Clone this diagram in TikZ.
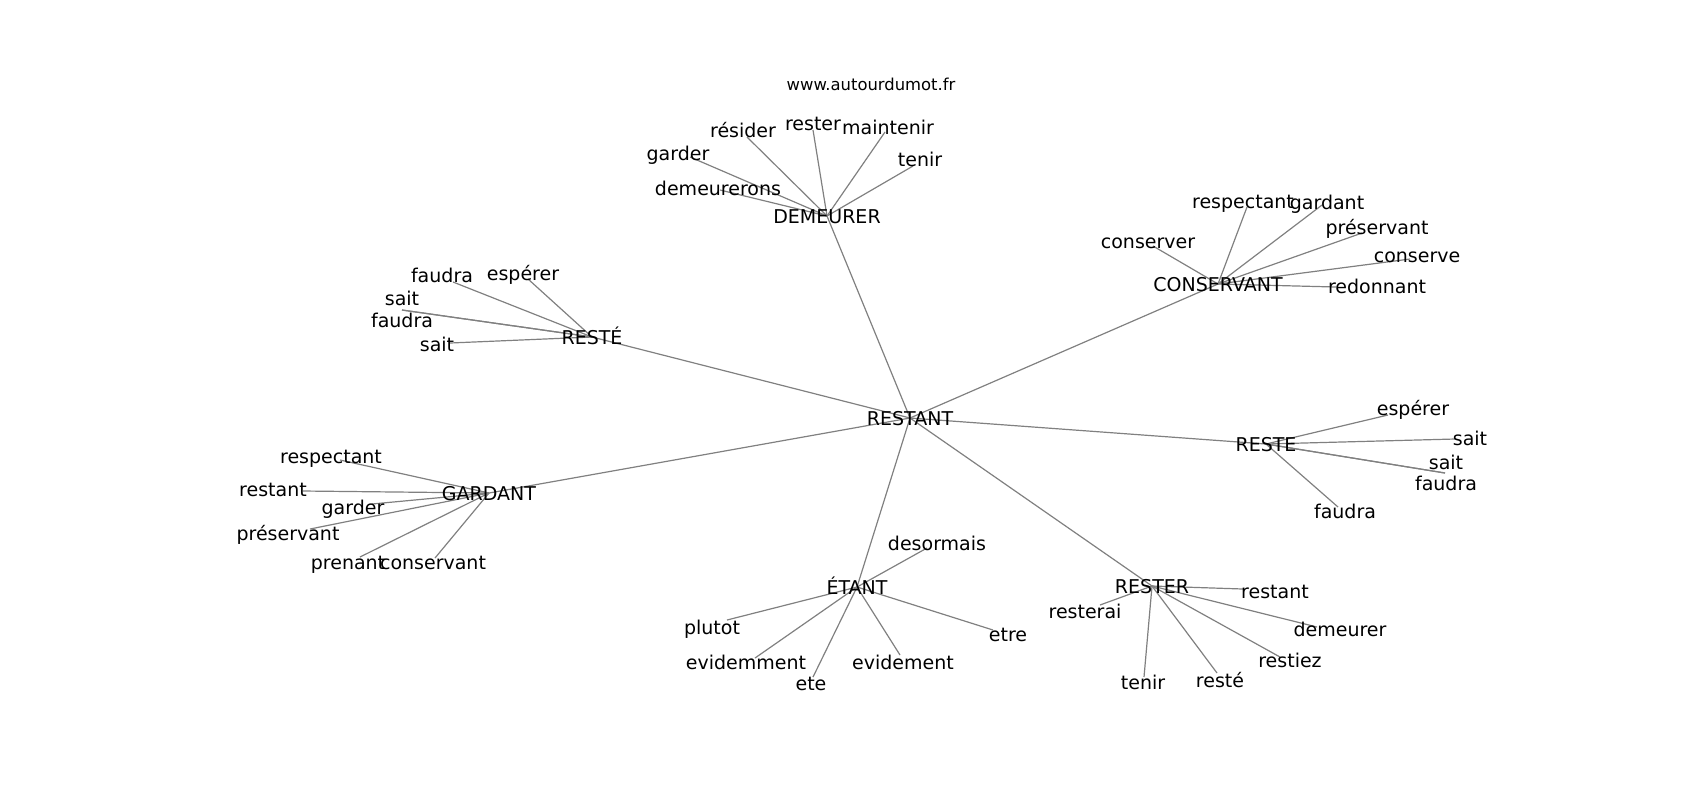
\documentclass[tikz,border=0pt]{standalone}
\usepackage{fontspec}
\setmainfont{DejaVu Sans}
\usetikzlibrary{backgrounds}

\tikzset{
    word/.style={font=\fontsize{9.5}{11}\selectfont, inner sep=0pt,
      text height=0.86em, text depth=0.12em},
    link/.style={draw=gray, line width=0.6pt}
}

\begin{document}
\begin{tikzpicture}[x=0.5pt, y=-0.5pt]
    \useasboundingbox (0,0) rectangle (1700,800);
    \node[word, font=\fontsize{8.2}{10}\selectfont] (site) at (871,83) {www.autourdumot.fr};
    \node[word] (restant) at (910,418) {RESTANT};
    % first ring
    \foreach \h/\x/\y/\t in {demeurer/827/216/DEMEURER, conservant/1218/284/CONSERVANT,
      resteacc/592/337/RESTÉ, gardant/489/493/GARDANT, reste/1266/444/RESTE,
      etant/857/587/ÉTANT, rester/1152/586/RESTER}
    {
      \node[word] (\h) at (\x,\y) {\t};
      \begin{scope}[on background layer]
        \draw[link] (restant.center) -- (\h.center);
      \end{scope}
    }
    % second ring: end of the line, then place of the word
    \foreach \h/\n/\px/\py/\lx/\ly/\t in {
      demeurer/dm1/747/137/743/130/résider,
      demeurer/dm2/813/130/813/123/rester,
      demeurer/dm3/885/132/888/127/maintenir,
      demeurer/dm4/690/157/678/153/garder,
      demeurer/dm5/720/190/718/188/demeurerons,
      demeurer/dm6/913/166/920/159/tenir,
      conservant/cs1/1247/207/1243/201/respectant,
      conservant/cs2/1322/205/1327/202/gardant,
      conservant/cs3/1362/233/1377/227/préservant,
      conservant/cs4/1153/246/1148/241/conserver,
      conservant/cs5/1410/259/1417/255/conserve,
      conservant/cs6/1336/287/1377/286/redonnant,
      resteacc/ra1/453/282/442/275/faudra,
      resteacc/ra2/528/279/523/273/espérer,
      resteacc/ra3/402/310/402/298/sait,
      resteacc/ra4/402/310/402/320/faudra,
      resteacc/ra5/450/343/437/344/sait,
      gardant/gd1/340/460/331/456/respectant,
      gardant/gd2/303/491/273/489/restant,
      gardant/gd3/372/504/353/507/garder,
      gardant/gd4/310/529/288/533/préservant,
      gardant/gd5/360/557/348/562/prenant,
      gardant/gd6/435/558/433/562/conservant,
      reste/rs1/1388/415/1413/408/espérer,
      reste/rs2/1455/439/1470/438/sait,
      reste/rs3/1445/473/1446/462/sait,
      reste/rs4/1445/473/1446/483/faudra,
      reste/rs5/1338/507/1345/511/faudra,
      etant/et1/927/548/937/543/desormais,
      etant/et2/727/620/712/627/plutot,
      etant/et3/755/658/746/662/evidemment,
      etant/et4/813/677/811/683/ete,
      etant/et5/900/655/903/662/evidement,
      etant/et6/993/630/1008/634/etre,
      rester/rr1/1243/589/1275/591/restant,
      rester/rr2/1100/605/1085/611/resterai,
      rester/rr3/1317/627/1340/629/demeurer,
      rester/rr4/1280/657/1290/660/restiez,
      rester/rr5/1144/677/1143/682/tenir,
      rester/rr6/1217/673/1220/680/resté}
    {
      \coordinate (\n) at (\px,\py);
      \node[word] (\n-t) at (\lx,\ly) {\t};
      \begin{scope}[on background layer]
        \draw[link] (\h.center) -- (\n);
      \end{scope}
    }
\end{tikzpicture}
\end{document}
